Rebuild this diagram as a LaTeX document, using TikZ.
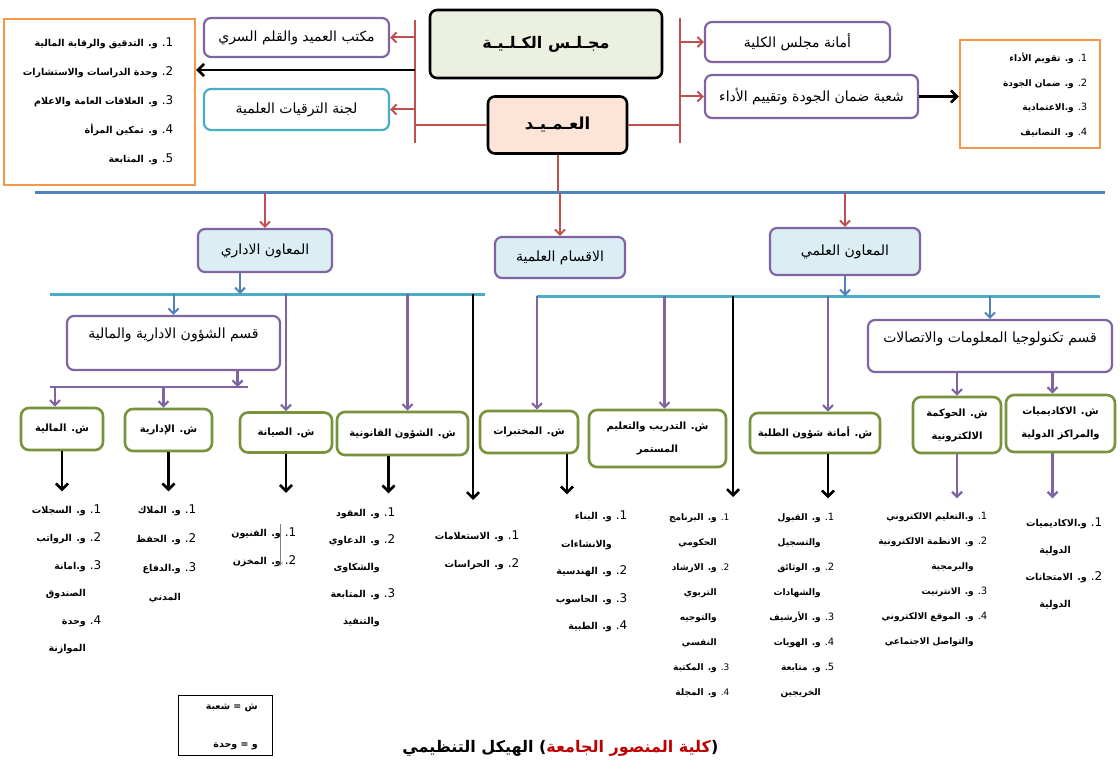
\documentclass[tikz,border=0pt]{standalone}
\usepackage{fontspec}
\setmainfont{DejaVu Sans}
\newfontfamily\arabicfont[Script=Arabic]{DejaVu Sans}
\TeXXeTstate=1
\usetikzlibrary{arrows.meta,positioning}

\definecolor{redln}{HTML}{C0504D}
\definecolor{blueln}{HTML}{4F81BD}
\definecolor{tealln}{HTML}{4BACC6}
\definecolor{purpln}{HTML}{8064A2}
\definecolor{greenln}{HTML}{77933C}
\definecolor{orangeln}{HTML}{F79646}
\definecolor{vpfill}{HTML}{DBEEF4}
\definecolor{cfill}{HTML}{EBF1DE}
\definecolor{dfill}{HTML}{FCE4D6}
\definecolor{ttlred}{HTML}{C00000}

\newcommand{\ar}[1]{{\arabicfont\beginR #1\endR}}
\newcommand{\itm}[3][12]{{\arabicfont\beginR\makebox[12pt][r]{\mdseries\fontsize{#1}{#1}\selectfont #2.}\hspace{4pt}#3\endR}}
\newcommand{\cnt}[2][16pt]{{\arabicfont\beginR\hspace{#1}#2\endR}}

\begin{document}
\begin{tikzpicture}[x=1pt,y=-1pt,
      box/.style={draw=purpln,line width=2.2pt,rounded corners=7pt,fill=white,inner sep=2pt,
        font=\arabicfont\fontsize{14}{16}\selectfont},
      vbox/.style={box,fill=vpfill},
      gbox/.style={box,draw=greenln,line width=2.6pt,rounded corners=8pt,align=center,
        font=\arabicfont\bfseries\fontsize{10}{23}\selectfont},
      obox/.style={draw=orangeln,line width=2.4pt},
      lst/.style={align=right,inner sep=0pt,anchor=north east,
        font=\arabicfont\bfseries\fontsize{9.5}{#1}\selectfont},
      lst/.default=27,
      ttl/.style={inner sep=1pt,font=\arabicfont\bfseries\fontsize{16}{18}\selectfont}]
  \tikzstyle{redline}=[draw=redln,line width=2pt]
  \tikzstyle{redarr}=[redline,-{Straight Barb[length=5pt,width=10pt]}]
  \tikzstyle{blkarr}=[draw=black,line width=2.6pt,-{Straight Barb[length=6pt,width=12pt]}]
  \tikzstyle{blueline}=[draw=blueln,line width=3pt]
  \tikzstyle{bluearr}=[draw=blueln,line width=2pt,-{Straight Barb[length=5pt,width=10pt]}]
  \tikzstyle{tealline}=[draw=tealln,line width=3pt]
  \tikzstyle{purpline}=[draw=purpln,line width=2.2pt]
  \tikzstyle{purparr}=[purpline,-{Straight Barb[length=5pt,width=10pt]}]
  \tikzstyle{grayarr}=[draw=gray,line width=0.8pt,-{Straight Barb[length=3pt,width=5pt]}]
  \useasboundingbox (0,0) rectangle (1120,773);

  % L0
  \node[box,draw=black,line width=2.6pt,fill=cfill,minimum width=232,minimum height=68,
    font=\arabicfont\bfseries\fontsize{16}{18}\selectfont] (council) at (546,44) {\ar{مجـلـس الكـلـيـة}};
  \node[box,draw=black,line width=2.6pt,fill=dfill,minimum width=139,minimum height=57,
    font=\arabicfont\bfseries\fontsize{16.5}{18}\selectfont] (dean) at (557.5,125) {\ar{العـمـيـد}};
  \node[box,minimum width=185,minimum height=39] (office) at (296.5,37.5) {\ar{مكتب العميد والقلم السري}};
  \node[box,draw=tealln,minimum width=185,minimum height=41] (promo) at (296.5,109.5) {\ar{لجنة الترقيات العلمية}};
  \node[obox,minimum width=191,minimum height=166] (units) at (99.5,102) {};
  \node[lst=29] (ulist) at (174,38) {\itm{1}{و. التدقيق والرقابة المالية}\\
    \itm{2}{وحدة الدراسات والاستشارات}\\ \itm{3}{و. العلاقات العامة والاعلام}\\
    \itm{4}{و. تمكين المرأة}\\ \itm{5}{و. المتابعة}};
  \node[box,minimum width=185,minimum height=40] (secr) at (797.5,42) {\ar{أمانة مجلس الكلية}};
  \node[box,minimum width=213,minimum height=43] (qual) at (811.5,96.5) {\ar{شعبة ضمان الجودة وتقييم الأداء}};
  \node[obox,minimum width=140,minimum height=108] (qunits) at (1030,94) {};
  \node[lst=24.5,font=\arabicfont\bfseries\fontsize{9}{24.5}\selectfont] (qlist) at (1090,53)
    {\itm[10]{1}{و. تقويم الأداء}\\ \itm[10]{2}{و. ضمان الجودة}\\
    \itm[10]{3}{و.الاعتمادية}\\ \itm[10]{4}{و. التصانيف}};

  \coordinate (lt) at (415,20); \coordinate (lb) at (415,143);
  \coordinate (rt) at (680,18); \coordinate (rb) at (680,143);
  \coordinate (bk) at (415,70);
  \draw[redline] (lt) -- (lb);
  \draw[redline] (rt) -- (rb);
  \draw[redline] (lt |- dean.west) -- (dean.west);
  \draw[redline] (dean.east) -- (rt |- dean.east);
  \draw[redarr] (lt |- office.east) -- (office.east);
  \draw[redarr] (lt |- promo.east) -- (promo.east);
  \draw[blkarr] (bk) -- (bk -| units.east);
  \draw[redarr] (rt |- secr.west) -- (secr.west);
  \draw[redarr] (rt |- qual.west) -- (qual.west);
  \draw[blkarr] (qual.east) -- (qual.east -| qunits.west);

  % L1
  \coordinate (bl) at (35,193); \coordinate (br) at (1105,193);
  \node[vbox,minimum width=134,minimum height=43] (admv) at (265,250.5) {\ar{المعاون الاداري}};
  \node[vbox,minimum width=130,minimum height=41] (depts) at (560,257.5) {\ar{الاقسام العلمية}};
  \node[vbox,minimum width=150,minimum height=47] (sciv) at (845,251.5) {\ar{المعاون العلمي}};
  \draw[redline] (dean.south) -- (dean.south |- bl);
  \draw[blueline] (bl) -- (br);
  \draw[redarr] (admv.north |- bl) -- (admv.north);
  \draw[redarr] (depts.north |- bl) -- (depts.north);
  \draw[redarr] (sciv.north |- bl) -- (sciv.north);

  % L2
  \coordinate (tl1) at (50,294); \coordinate (tl2) at (485,294);
  \coordinate (tr1) at (537,296); \coordinate (tr2) at (1100,296);
  \coordinate (pl1) at (50,387); \coordinate (pl2) at (248,387);
  \coordinate (gd) at (473,500); \coordinate (pg) at (733,497);
  \node[box,minimum width=213,minimum height=54,text depth=20pt] (afd) at (173.5,343) {\ar{قسم الشؤون الادارية والمالية}};
  \node[box,minimum width=244,minimum height=52,text depth=18pt] (ict) at (990,346) {\ar{قسم تكنولوجيا المعلومات والاتصالات}};
  \draw[tealline] (tl1) -- (tl2);
  \draw[tealline] (tr1) -- (tr2);
  \draw[bluearr] ([xshift=-25pt]admv.south) -- ([xshift=-25pt]admv.south |- tl1);
  \draw[bluearr] (sciv.south) -- (sciv.south |- tr1);
  \draw[bluearr] (afd.north |- tl1) -- (afd.north);
  \draw[bluearr] (ict.north |- tr1) -- (ict.north);
  \draw[purpline] (pl1) -- (pl2);
  \draw[purparr] ([xshift=64pt]afd.south) -- ([xshift=64pt]afd.south |- pl1);

  % L3
  \node[gbox,minimum width=82,minimum height=42] (fin) at (62,429) {\ar{ش. المالية}};
  \node[gbox,minimum width=87,minimum height=42] (adm) at (168.5,430) {\ar{ش. الإدارية}};
  \node[gbox,minimum width=92,minimum height=40] (maint) at (286,432.5) {\ar{ش. الصيانة}};
  \node[gbox,minimum width=131,minimum height=43] (legal) at (402.5,433.5) {\ar{ش. الشؤون القانونية}};
  \node[gbox,minimum width=98,minimum height=42] (labs) at (529,432) {\ar{ش. المختبرات}};
  \node[gbox,minimum width=137,minimum height=57] (train) at (657.5,438.5) {\ar{ش. التدريب والتعليم}\\\ar{المستمر}};
  \node[gbox,minimum width=130,minimum height=40] (stud) at (815,433) {\ar{ش. أمانة شؤون الطلبة}};
  \node[gbox,minimum width=88,minimum height=56] (egov) at (957,425) {\ar{ش. الحوكمة}\\\ar{الالكترونية}};
  \node[gbox,minimum width=109,minimum height=57] (acad) at (1060.5,423.5) {\ar{ش. الاكاديميات}\\\ar{والمراكز الدولية}};
  \draw[purparr] ([xshift=-7pt]fin.north |- pl1) -- ([xshift=-7pt]fin.north);
  \draw[purparr] ([xshift=-5pt]adm.north |- pl1) -- ([xshift=-5pt]adm.north);
  \draw[purparr] (maint.north |- tl1) -- (maint.north);
  \draw[purparr] ([xshift=5pt]legal.north |- tl1) -- ([xshift=5pt]legal.north);
  \draw[blkarr] (gd |- tl1) -- (gd);
  \draw[purparr] ([xshift=8pt]labs.north |- tr1) -- ([xshift=8pt]labs.north);
  \draw[purparr] ([xshift=7pt]train.north |- tr1) -- ([xshift=7pt]train.north);
  \draw[blkarr] (pg |- tr1) -- (pg);
  \draw[purparr] ([xshift=13pt]stud.north |- tr1) -- ([xshift=13pt]stud.north);
  \draw[purparr] (egov.north |- ict.south) -- (egov.north);
  \draw[purparr] ([xshift=-8pt]acad.north |- ict.south) -- ([xshift=-8pt]acad.north);

  % L4
  \draw[blkarr] (fin.south) -- ++(0,40);
  \draw[blkarr] (adm.south) -- ++(0,39);
  \draw[blkarr] (maint.south) -- ++(0,39);
  \draw[blkarr] ([xshift=-14pt]legal.south) -- ++(0,37);
  \draw[blkarr] ([xshift=38pt]labs.south) -- ++(0,40);
  \draw[blkarr] ([xshift=13pt]stud.south) -- ++(0,44);
  \draw[purparr] (egov.south) -- ++(0,44);
  \draw[purparr] ([xshift=-8pt]acad.south) -- ++(0,45);

  \node[lst=27.6] (finlist) at (102,505) {\itm{1}{و. السجلات}\\ \itm{2}{و. الرواتب}\\
    \itm{3}{و.امانة}\\ \cnt{الصندوق}\\ \itm{4}{وحدة}\\ \cnt{الموازنة}};
  \node[lst=29] (admlist) at (197,505) {\itm{1}{و. الملاك}\\ \itm{2}{و. الحفظ}\\
    \itm{3}{و.الدفاع}\\ \cnt{المدني}};
  \node[lst=28] (maintlist) at (297,528) {\itm{1}{و. الفنيون}\\ \itm{2}{و. المخزن}};
  \coordinate (gx1) at (280,524); \coordinate (gx2) at (280,566);
  \draw[grayarr] (gx1) -- (gx2);
  \node[lst] (legallist) at (396,508) {\itm{1}{و. العقود}\\ \itm{2}{و. الدعاوي}\\
    \cnt{والشكاوى}\\ \itm{3}{و. المتابعة}\\ \cnt{والتنفيذ}};
  \node[lst=28] (guardlist) at (520,531) {\itm{1}{و. الاستعلامات}\\ \itm{2}{و. الحراسات}};
  \node[lst=27.5] (labslist) at (628,511) {\itm{1}{و. البناء}\\ \cnt{والانشاءات}\\
    \itm{2}{و. الهندسية}\\ \itm{3}{و. الحاسوب}\\ \itm{4}{و. الطبية}};
  \node[lst=25,font=\arabicfont\bfseries\fontsize{9}{25}\selectfont] (proglist) at (733,513)
    {\itm[9]{1}{و. البرنامج}\\ \cnt{الحكومي}\\
    \itm[9]{2}{و. الارشاد}\\ \cnt{التربوي}\\ \cnt{والتوجيه}\\ \cnt{النفسي}\\
    \itm[9]{3}{و. المكتبة}\\ \itm[9]{4}{و. المجلة}};
  \node[lst=25,font=\arabicfont\bfseries\fontsize{9}{25}\selectfont] (studlist) at (837,513)
    {\itm[10]{1}{و. القبول}\\ \cnt{والتسجيل}\\
    \itm[10]{2}{و. الوثائق}\\ \cnt{والشهادات}\\ \itm[10]{3}{و. الأرشيف}\\
    \itm[10]{4}{و. الهويات}\\ \itm[10]{5}{و. متابعة}\\ \cnt{الخريجين}};
  \node[lst=25,font=\arabicfont\bfseries\fontsize{9}{25}\selectfont] (egovlist) at (990,512)
    {\itm[10]{1}{و.التعليم الالكتروني}\\
    \itm[10]{2}{و. الانظمة الالكترونية}\\ \cnt{والبرمجية}\\ \itm[10]{3}{و. الانترنيت}\\
    \itm[10]{4}{و. الموقع الالكتروني}\\ \cnt{والتواصل الاجتماعي}};
  \node[lst=26.7] (acadlist) at (1103,518) {\itm{1}{و.الاكاديميات}\\ \cnt[32pt]{الدولية}\\
    \itm{2}{و. الامتحانات}\\ \cnt[32pt]{الدولية}};

  % legend + title
  \node[draw,line width=0.8pt,minimum width=94,minimum height=60] (legend) at (225,725) {};
  \node[lst=38] (leglist) at (258,704) {\ar{ش = شعبة}\\ \ar{و = وحدة}};
  \node[ttl] (title) at (468,748) {\ar{الهيكل التنظيمي}};
  \node[ttl,right=3pt of title] (college) {{\rmfamily(}\textcolor{ttlred}{\ar{كلية المنصور الجامعة}}{\rmfamily)}};
\end{tikzpicture}
\end{document}
